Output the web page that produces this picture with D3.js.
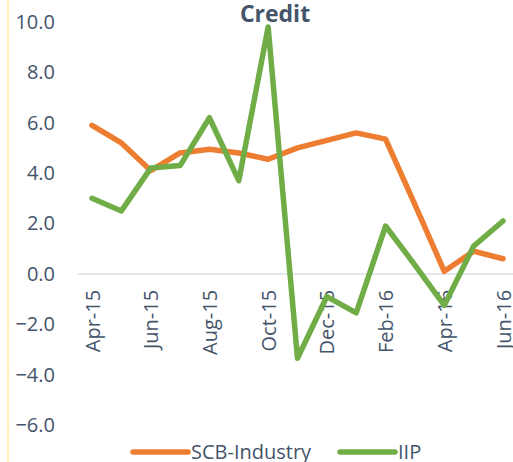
<!DOCTYPE html>
<html>
<head>
<meta charset="utf-8">
<script src="https://cdn.jsdelivr.net/npm/d3@7"></script>
<style>
  body { margin: 0; background: #fff; }
  svg { display: block; font-family: "Open Sans", sans-serif; }
</style>
</head>
<body>
<div id="chart"></div>
<script>
'use strict';

// months on the category axis
var months = ['Apr-15','May-15','Jun-15','Jul-15','Aug-15','Sep-15','Oct-15','Nov-15',
              'Dec-15','Jan-16','Feb-16','Mar-16','Apr-16','May-16','Jun-16'];
// series values (%)
var scbIndustry = [5.9, 5.2, 4.1, 4.8, 4.95, 4.8, 4.55, 5.0, 5.3, 5.6, 5.35, 2.75, 0.1, 0.9, 0.6];
var iip = [3.0, 2.5, 4.2, 4.3, 6.2, 3.7, 9.8, -3.35, -0.9, -1.55, 1.9, 0.35, -1.25, 1.1, 2.1];
var yTicks = [-6, -4, -2, 0, 2, 4, 6, 8, 10];
var shownMonths = ['Apr-15','Jun-15','Aug-15','Oct-15','Dec-15','Feb-16','Apr-16','Jun-16'];

var series = [
    {name: 'SCB-Industry', values: scbIndustry, color: '#ed7d31'},
    {name: 'IIP', values: iip, color: '#70ad47'}
];

var width = 513, height = 462;
var textColor = '#44546a';

var svg = d3.select('#chart')
    .append('svg')
        .attr('width', width)
        .attr('height', height);

// pale left border of the crop
svg.append('line')
    .attr('x1', 8).attr('x2', 8)
    .attr('y1', 0).attr('y2', height)
    .attr('stroke', '#fdedb8')
    .attr('stroke-width', 2);

// set the ranges
var x = d3.scalePoint()
    .domain(months)
    .range([92, 503]);
var y = d3.scaleLinear()
    .domain([-6, 10])
    .range([425, 22]);

// zero line
svg.append('line')
    .attr('x1', 78).attr('x2', width)
    .attr('y1', y(0)).attr('y2', y(0))
    .attr('stroke', '#d9dee7')
    .attr('stroke-width', 1.5);

// y axis labels
var yAxis = svg.append('g')
    .attr('transform', 'translate(55,0)')
    .call(d3.axisLeft(y).tickValues(yTicks).tickFormat(d3.format('.1f')).tickSize(0).tickPadding(0));
yAxis.select('.domain').remove();
yAxis.selectAll('text')
    .attr('fill', textColor)
    .attr('font-size', 20)
    .attr('font-family', '"Open Sans", sans-serif');

// x axis labels, rotated, hanging under the zero line
var xAxis = svg.append('g')
    .attr('transform', 'translate(0,' + y(0) + ')')
    .call(d3.axisBottom(x).tickValues(shownMonths).tickSize(0));
xAxis.select('.domain').remove();
xAxis.selectAll('text')
    .attr('fill', textColor)
    .attr('font-size', 20)
    .attr('font-family', '"Open Sans", sans-serif')
    .attr('text-anchor', 'end')
    .attr('transform', 'rotate(-90)')
    .attr('x', -16)
    .attr('y', 0)
    .attr('dy', '0.35em');

// the lines
var line = d3.line()
    .x(function(d, i) { return x(months[i]); })
    .y(function(d) { return y(d); });

svg.selectAll('path.series')
    .data(series)
    .enter()
        .append('path')
          .attr('class', 'series')
          .attr('d', function(d) { return line(d.values); })
          .attr('fill', 'none')
          .attr('stroke', function(d) { return d.color; })
          .attr('stroke-width', 5.5)
          .attr('stroke-linejoin', 'round')
          .attr('stroke-linecap', 'round');

// title
svg.append('text')
    .attr('x', 275)
    .attr('y', 22)
    .attr('text-anchor', 'middle')
    .attr('fill', textColor)
    .attr('font-size', 23)
    .attr('font-weight', 'bold')
    .text('Credit');

// legend
var legendX = [133, 340];
var legend = svg.selectAll('g.legend')
    .data(series)
    .enter()
        .append('g')
          .attr('class', 'legend')
          .attr('transform', function(d, i) { return 'translate(' + legendX[i] + ',452)'; });
legend.append('line')
    .attr('x1', 0).attr('x2', 55)
    .attr('stroke', function(d) { return d.color; })
    .attr('stroke-width', 5.5)
    .attr('stroke-linecap', 'round');
legend.append('text')
    .attr('x', 58)
    .attr('dy', '0.35em')
    .attr('fill', textColor)
    .attr('font-size', 20)
    .text(function(d) { return d.name; });
</script>
</body>
</html>
